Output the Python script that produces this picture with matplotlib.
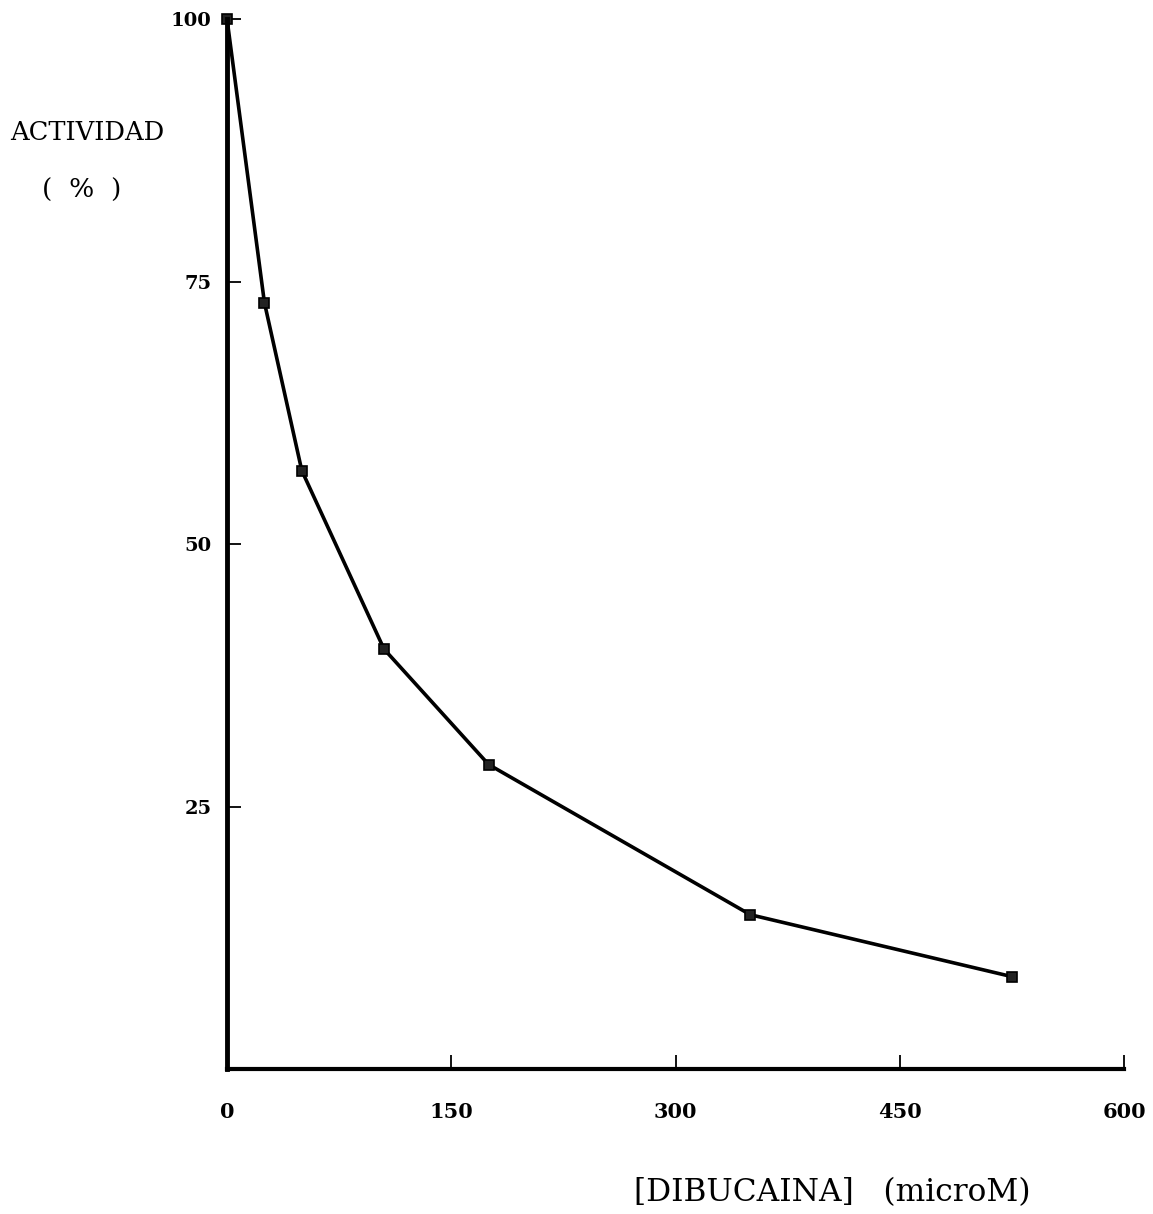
import matplotlib
matplotlib.use('Agg')
import matplotlib.pyplot as plt

# dibucaine concentration (microM) vs remaining activity (%)
dibucaina = [0, 25, 50, 105, 175, 350, 525]
actividad = [100, 73, 57, 40, 29, 14.7, 8.8]

xticks = [0, 150, 300, 450, 600]
yticks = [25, 50, 75, 100]

plt.rcParams['font.family'] = ['DejaVu Serif']

fig = plt.figure(figsize=(11.53, 12.14), dpi=100)
ax = fig.add_axes([0.1969, 0.1194, 0.7780, 0.8649])

ax.plot(dibucaina, actividad, '-', color='black', lw=2.6,
        marker='s', ms=7, mfc='#222222', mec='black', mew=1.2, clip_on=False)

ax.set_xlim(0, 600)
ax.set_ylim(0, 100)
ax.set_xticks(xticks)
ax.set_yticks(yticks)
ax.set_xticklabels([str(v) for v in xticks], fontsize=15, fontweight='bold')
ax.set_yticklabels([str(v) for v in yticks], fontsize=14, fontweight='bold')
ax.tick_params(axis='x', direction='in', length=10, width=1.3, pad=24)
ax.tick_params(axis='y', direction='in', length=10, width=1.3, pad=11)

for side in ['top', 'right']:
    ax.spines[side].set_visible(False)
ax.spines['left'].set_linewidth(3.5)
ax.spines['bottom'].set_linewidth(3.0)

fig.text(10 / 1153, 1 - 133 / 1214, 'ACTIVIDAD', fontsize=18.5,
         ha='left', va='center')
fig.text(82 / 1153, 1 - 190 / 1214, '(  %  )', fontsize=19,
         ha='center', va='center')
fig.text(832 / 1153, 1 - 1193 / 1214, '[DIBUCAINA]   (microM)', fontsize=22.5,
         ha='center', va='center')

fig.savefig('out.png', dpi=100, facecolor='white')
